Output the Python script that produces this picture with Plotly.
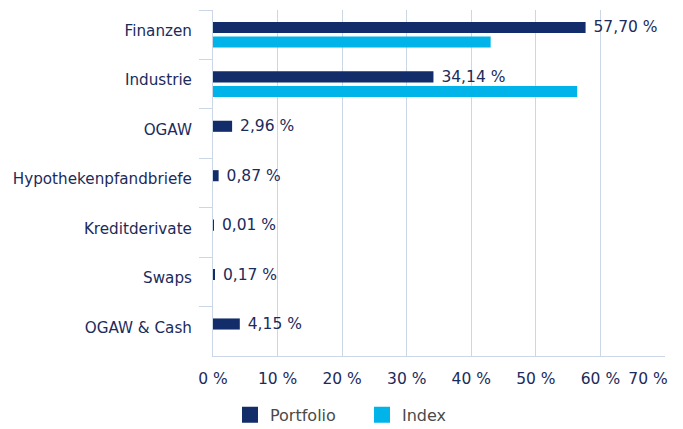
import plotly.graph_objects as go

categories = ["Finanzen", "Industrie", "OGAW", "Hypothekenpfandbriefe",
              "Kreditderivate", "Swaps", "OGAW & Cash"]
portfolio = [57.70, 34.14, 2.96, 0.87, 0.01, 0.17, 4.15]
index_vals = [43.0, 56.4, 0, 0, 0, 0, 0]
tick_vals = [0, 10, 20, 30, 40, 50, 60]
tick_text = ["0 %", "10 %", "20 %", "30 %", "40 %", "50 %", "60 %"]
last_tick_val = [70]
last_tick_text = ["70 %"]

navy = "#122d69"
cyan = "#00b4ea"
txt = "#1b2b5b"
grid = "#cbd6e7"
font_family = "DejaVu Sans, Verdana, sans-serif"

portfolio_text = ["\u00a0" + f"{v:.2f}".replace(".", ",") + " %" for v in portfolio]

fig = go.Figure()
fig.add_trace(go.Bar(
    y=categories, x=portfolio, orientation="h", name="Portfolio",
    marker=dict(color=navy, line=dict(width=0)),
    text=portfolio_text, textposition="outside", constraintext="none",
    textfont=dict(color=txt, size=15.5, family=font_family),
    cliponaxis=False, hoverinfo="skip", showlegend=False,
))
fig.add_trace(go.Bar(
    y=categories, x=index_vals, orientation="h", name="Index",
    marker=dict(color=cyan, line=dict(width=0)),
    hoverinfo="skip", showlegend=False,
))
# legend entries with larger square swatches (no data; live on the overlay axis)
for nm, col in (("Portfolio", navy), ("Index", cyan)):
    fig.add_trace(go.Scatter(
        x=[None], y=[None], mode="markers", name=nm, xaxis="x2",
        marker=dict(symbol="square", size=18, color=col),
        showlegend=True, hoverinfo="skip",
    ))

fig.update_layout(
    width=683, height=429,
    margin=dict(l=213, r=18, t=10, b=73),
    paper_bgcolor="white", plot_bgcolor="white",
    barmode="group", bargap=0.41, bargroupgap=0.24,
    font=dict(family=font_family, color=txt, size=13),
    showlegend=True,
    legend=dict(orientation="h", xref="container", x=0.53, xanchor="center",
                yref="container", y=0.033, yanchor="middle",
                font=dict(size=16, color="#4a4a4a"),
                itemsizing="trace", itemwidth=30,
                entrywidth=87, entrywidthmode="pixels"),
    xaxis=dict(range=[0, 70], tickvals=tick_vals + last_tick_val,
               ticktext=tick_text + [""],
               showgrid=True, gridcolor=grid, gridwidth=1,
               zeroline=False, showline=True, linecolor=grid, linewidth=1,
               ticks="", tickfont=dict(size=15.5, color=txt),
               ticklabelstandoff=8, automargin=False, fixedrange=True),
    xaxis2=dict(range=[0, 70], overlaying="x", side="bottom", anchor="y",
                tickvals=last_tick_val, ticktext=last_tick_text,
                showgrid=False, zeroline=False, showline=False, ticks="",
                tickfont=dict(size=15.5, color=txt), ticklabelstandoff=11,
                ticklabelshift=-17, automargin=False, fixedrange=True),
    yaxis=dict(autorange="reversed", showgrid=False, zeroline=False,
               showline=True, linecolor=grid, linewidth=1,
               ticks="outside", tickson="boundaries", ticklen=13,
               tickcolor=grid, tickwidth=1, ticklabelstandoff=17,
               ticklabelshift=4,
               tickfont=dict(size=15.2, color=txt), automargin=False,
               fixedrange=True),
)

fig.write_html("out.html", post_script="document.body.style.margin='0';",
               config={"displayModeBar": False})
